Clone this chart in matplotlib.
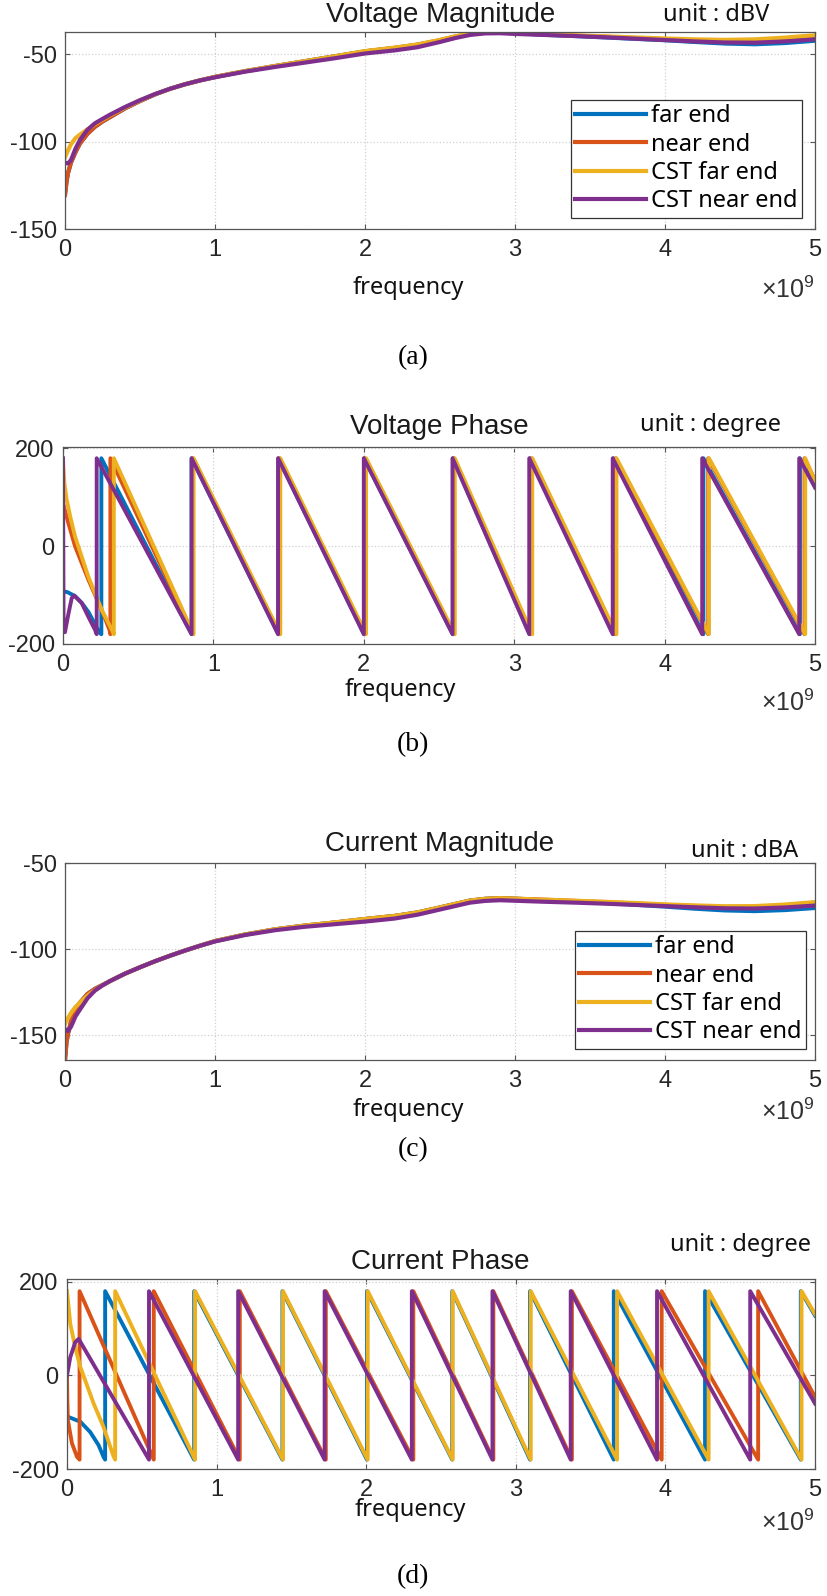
import matplotlib.pyplot as plt

# output size (pixels at dpi 100)
W, H = 827, 1596

plt.rcParams["font.family"] = ["Liberation Sans", "DejaVu Sans"]
plt.rcParams["mathtext.fontset"] = "custom"
plt.rcParams["mathtext.rm"] = "Liberation Sans"
plt.rcParams["axes.unicode_minus"] = False

labels = ["far end", "near end", "CST far end", "CST near end"]
colors = ["#0072BD", "#D95319", "#EDB120", "#7E2F8E"]

# frequency grid of the magnitude curves [GHz]
f_mag = [0, 0.01, 0.02, 0.04, 0.07, 0.1, 0.15, 0.2, 0.25, 0.3, 0.4, 0.5, 0.6, 0.7,
         0.8, 0.9, 1.0, 1.2, 1.4, 1.6, 1.8, 2.0, 2.2, 2.35, 2.5, 2.6, 2.7, 2.8, 2.9,
         3.0, 3.2, 3.4, 3.6, 3.8, 4.0, 4.2, 4.4, 4.6, 4.8, 5.0]

# voltage magnitude [dBV]
vmag_far = [-130.5, -123, -118, -112, -106, -101, -95.5, -91.5, -88.5, -86, -81, -76.8,
            -73, -69.8, -67.2, -65, -63, -59.7, -56.8, -54, -51.2, -48.4, -46.4, -44.6,
            -42, -40, -38.4, -37.5, -37.5, -38, -38.9, -39.6, -40.4, -41.2, -42, -43,
            -43.9, -44.3, -43.6, -42.3]
vmag_near = [-130.5, -123, -118, -112, -106, -101, -95.5, -91.5, -88.5, -86, -81, -76.8,
             -73, -69.8, -67.2, -65, -63, -59.7, -56.8, -54, -51.2, -48.4, -46.4, -44.6,
             -42, -40, -38.4, -37.5, -37.5, -38, -38.7, -39.4, -40, -40.8, -41.5, -42.1,
             -42.5, -42.2, -41, -39.5]
vmag_cst_far = [-109, -107, -105, -101.5, -98, -96, -93, -90, -87.5, -85, -80.5, -76.5,
                -72.8, -69.8, -67.2, -65, -63, -59.7, -56.8, -54, -51.2, -48.2, -46.2, -44.4,
                -41.8, -39.8, -38.2, -37.4, -37.4, -37.9, -38.6, -39.2, -39.8, -40.4, -41,
                -41.5, -41.8, -41.5, -40.5, -39.2]
vmag_cst_near = [-112, -112.3, -112.5, -110.5, -104, -99, -93.2, -89.5, -87, -84.6, -80.2,
                 -76.3, -72.8, -69.8, -67.2, -65, -63.2, -60, -57.3, -54.8, -52.3, -49.6,
                 -47.8, -46, -43, -40.8, -39, -38.1, -38, -38.4, -39, -39.6, -40.3,
                 -41.1, -41.9, -42.7, -43.3, -43.4, -42.7, -41.5]

# current magnitude [dBA]
imag_far = [-164.5, -154, -149, -142, -135, -131, -126, -123, -120.8, -118.5, -114.2,
            -110.5, -107, -103.8, -100.8, -98, -95.3, -91.5, -88.5, -86.3, -84.5, -82.5,
            -80.7, -78.7, -75.8, -73.8, -71.8, -70.8, -70.4, -70.7, -71.6, -72.3, -73.2,
            -74.2, -75.3, -76.5, -77.5, -77.9, -77.3, -76.1]
imag_near = [-164.5, -154, -149, -142, -135, -131, -126, -123, -120.8, -118.5, -114.2,
             -110.5, -107, -103.8, -100.8, -98, -95.3, -91.5, -88.5, -86.3, -84.5, -82.5,
             -80.7, -78.7, -75.8, -73.8, -71.8, -70.8, -70.4, -70.7, -71.3, -72, -72.7,
             -73.5, -74.3, -75, -75.5, -75.4, -74.5, -73]
imag_cst_far = [-143.4, -141.5, -140, -137, -133.5, -131, -127, -123.8, -121, -118.5,
                -114.2, -110.5, -107, -103.8, -100.8, -98, -95.3, -91.5, -88.5, -86.3,
                -84.5, -82.5, -80.7, -78.7, -75.8, -73.8, -71.8, -70.8, -70.4, -70.7,
                -71.3, -71.9, -72.5, -73.2, -74, -74.6, -75.1, -75, -74.1, -72.7]
imag_cst_near = [-146.3, -147, -147.5, -145, -139, -135, -128.5, -124, -121, -118.5,
                 -114.2, -110.5, -107, -103.8, -100.8, -98, -95.5, -91.8, -89, -87,
                 -85.5, -84, -82.2, -80, -77, -75, -73, -72, -71.6, -71.9, -72.5, -73,
                 -73.6, -74.3, -75, -75.7, -76.3, -76.4, -75.8, -74.7]

# phase curves: start of the curve (freq [GHz], phase [deg]), then the frequencies
# where the phase wraps from -180 to +180, then the phase at 5 GHz
vph_far_f = [0, 0.03, 0.08, 0.125, 0.17, 0.21, 0.24]
vph_far_p = [-92, -94, -102, -116, -135, -158, -176]
vph_far_wraps = [0.255, 0.855, 1.432, 2.002, 2.592, 3.105, 3.66, 4.258, 4.9]
vph_far_end = 122

vph_near_f = [0.002, 0.035, 0.08, 0.168, 0.257, 0.31]
vph_near_p = [86, 48, 0, -68, -130, -172]
vph_near_wraps = [0.315, 0.865, 1.44, 2.01, 2.6, 3.115, 3.675, 4.29, 4.93]
vph_near_end = 135

vph_cst_far_f = [0, 0.009, 0.024, 0.047, 0.08, 0.168, 0.257, 0.33]
vph_cst_far_p = [178, 130, 96, 62, 20, -62, -130, -174]
vph_cst_far_wraps = [0.338, 0.868, 1.445, 2.015, 2.605, 3.12, 3.68, 4.295, 4.935]
vph_cst_far_end = 133

vph_cst_near_f = [0, 0.004, 0.013, 0.035, 0.058, 0.075, 0.124, 0.168, 0.213]
vph_cst_near_p = [180, -170, -176, -140, -106, -101, -116, -144, -171]
vph_cst_near_wraps = [0.224, 0.855, 1.43, 2.0, 2.59, 3.1, 3.655, 4.25, 4.895]
vph_cst_near_end = 120

iph_far_f = [0, 0.011, 0.089, 0.155, 0.211, 0.244]
iph_far_p = [-88, -89, -99, -121, -149, -174]
iph_far_wraps = [0.255, 0.85, 1.44, 2.005, 2.575, 3.095, 3.655, 4.265, 4.905]
iph_far_end = 128

iph_near_f = [0, 0.002, 0.006, 0.033, 0.067]
iph_near_p = [0, -50, -96, -145, -174]
iph_near_wraps = [0.084, 0.58, 1.155, 1.73, 2.315, 2.85, 3.375, 3.975, 4.62]
iph_near_end = -46

iph_cst_far_f = [0, 0.022, 0.055, 0.089, 0.178, 0.244, 0.31]
iph_cst_far_p = [180, 110, 60, 18, -60, -110, -172]
iph_cst_far_wraps = [0.322, 0.856, 1.444, 2.01, 2.578, 3.1, 3.677, 4.289, 4.91]
iph_cst_far_end = 131

iph_cst_near_f = [0, 0.022, 0.055, 0.078]
iph_cst_near_p = [0, 39, 71, 78]
iph_cst_near_wraps = [0.548, 1.144, 1.722, 2.305, 2.844, 3.367, 3.944, 4.567]
iph_cst_near_end = -60


def wrap_curve(head_f, head_p, wraps, end_p):
    # piecewise phase: start curve, then linear ramps between the wraps
    f = list(head_f)
    p = list(head_p)
    for w in wraps:
        f += [w, w]
        p += [-180, 180]
    f.append(5.0)
    p.append(end_p)
    return f, p


def px_box(left, top, right, bottom):
    return [left / W, 1 - bottom / H, (right - left) / W, (bottom - top) / H]


def fig_text(x, y, s, **kw):
    fig.text(x / W, 1 - y / H, s, ha=kw.pop("ha", "center"), va="center", **kw)


def style_axes(ax, ylim, yticks):
    ax.set_xlim(0, 5)
    ax.set_ylim(*ylim)
    ax.set_xticks(range(6))
    ax.set_yticks(yticks)
    ax.grid(True, color="#d0d0d0", linestyle=":", linewidth=0.9)
    ax.tick_params(direction="in", top=True, right=True, length=3.5, width=0.8,
                   color="#555555", labelcolor="#262626", labelsize=17)
    ax.tick_params(axis="x", pad=7)
    ax.tick_params(axis="y", pad=6)
    for s in ax.spines.values():
        s.set_color("#555555")
        s.set_linewidth(0.9)


def add_legend(ax, anchor):
    leg = ax.legend(loc="lower right", bbox_to_anchor=anchor, borderaxespad=0,
                    prop={"family": "Noto Sans", "size": 17}, handlelength=3.0,
                    handletextpad=0.2, labelspacing=0.18, borderpad=0.2,
                    fancybox=False, framealpha=1, edgecolor="#333333")
    leg.get_frame().set_linewidth(0.9)
    for line in leg.get_lines():
        line.set_linewidth(3.0)


fig = plt.figure(figsize=(W / 100, H / 100), dpi=100)
lw_mag = 3.0
lw_ph = 2.8
label_font = dict(family="Noto Sans", fontsize=17, color="#111111")

# (a) voltage magnitude
ax = fig.add_axes(px_box(65, 32, 815, 229))
for y, c, lab in zip([vmag_far, vmag_near, vmag_cst_far, vmag_cst_near], colors, labels):
    ax.plot(f_mag, y, color=c, lw=lw_mag, label=lab)
style_axes(ax, (-150, -37.3), [-150, -100, -50])
add_legend(ax, (0.983, 0.056))

# (b) voltage phase
ax = fig.add_axes(px_box(63, 447, 815, 644))
vph = [(vph_far_f, vph_far_p, vph_far_wraps, vph_far_end),
       (vph_near_f, vph_near_p, vph_near_wraps, vph_near_end),
       (vph_cst_far_f, vph_cst_far_p, vph_cst_far_wraps, vph_cst_far_end),
       (vph_cst_near_f, vph_cst_near_p, vph_cst_near_wraps, vph_cst_near_end)]
for args, c in zip(vph, colors):
    f, p = wrap_curve(*args)
    ax.plot(f, p, color=c, lw=lw_ph)
style_axes(ax, (-200, 203), [-200, 0, 200])

# (c) current magnitude
ax = fig.add_axes(px_box(65, 863, 815, 1060))
for y, c, lab in zip([imag_far, imag_near, imag_cst_far, imag_cst_near], colors, labels):
    ax.plot(f_mag, y, color=c, lw=lw_mag, label=lab)
style_axes(ax, (-164.3, -50), [-150, -100, -50])
add_legend(ax, (0.988, 0.056))

# (d) current phase
ax = fig.add_axes(px_box(67, 1279, 815, 1469))
iph = [(iph_far_f, iph_far_p, iph_far_wraps, iph_far_end),
       (iph_near_f, iph_near_p, iph_near_wraps, iph_near_end),
       (iph_cst_far_f, iph_cst_far_p, iph_cst_far_wraps, iph_cst_far_end),
       (iph_cst_near_f, iph_cst_near_p, iph_cst_near_wraps, iph_cst_near_end)]
for args, c in zip(iph, colors):
    f, p = wrap_curve(*args)
    ax.plot(f, p, color=c, lw=lw_ph)
style_axes(ax, (-200, 206), [-200, 0, 200])

# titles, unit notes, axis labels and captions
titles = ["Voltage Magnitude", "Voltage Phase", "Current Magnitude", "Current Phase"]
title_pos = [(441, 15), (439, 427), (440, 844), (440, 1262)]
units = ["unit : dBV", "unit : degree", "unit : dBA", "unit : degree"]
unit_pos = [(716, 15), (711, 425), (745, 851), (740, 1245)]
freq_pos = [(408, 288), (400, 690), (408, 1110), (410, 1510)]
exp_y = [290, 703, 1112, 1523]
captions = ["(a)", "(b)", "(c)", "(d)"]
caption_y = [358, 745, 1150, 1577]

for i in range(4):
    fig_text(*title_pos[i], titles[i], fontsize=20, color="#1a1a1a")
    fig_text(*unit_pos[i], units[i], **label_font)
    fig_text(*freq_pos[i], "frequency", **label_font)
    fig_text(815, exp_y[i], r"$\mathregular{\times10^{9}}$", ha="right",
             fontsize=18, color="#333333")
    fig_text(413, caption_y[i], captions[i], family="Liberation Serif",
             fontsize=20, color="black")

fig.savefig("out.png", dpi=100)
